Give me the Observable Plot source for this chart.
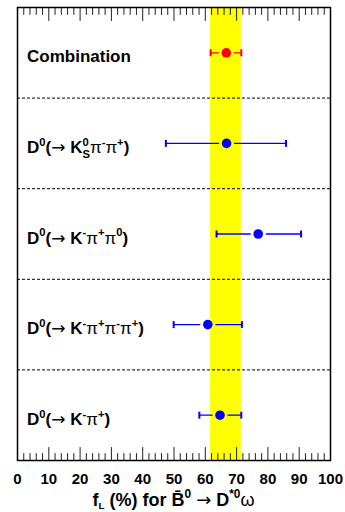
<!DOCTYPE html>
<html>
<head>
<meta charset="utf-8">
<script src="https://cdn.jsdelivr.net/npm/d3@7"></script>
<script src="https://cdn.jsdelivr.net/npm/@observablehq/plot@0.6"></script>
<style>
  body { margin: 0; background: #fff; }
  svg text { font-family: "Liberation Sans", Arial, Helvetica, sans-serif; }
  svg tspan.arrow { font-family: "DejaVu Sans", sans-serif; }
</style>
</head>
<body>
<div id="chart"></div>
<script>
// Longitudinal polarization fraction f_L (%) per D0 decay mode, top to bottom
const modes   = ["Combination", "Kspipi", "Kpipi0", "K3pi", "Kpi"];
const central = [66.7, 66.8, 76.9, 60.8, 64.7];
const lower   = [61.7, 47.4, 63.6, 49.9, 58.1];
const upper   = [71.5, 85.8, 90.6, 71.7, 71.5];
const colors  = ["#ff0000", "#0000ff", "#0000ff", "#0000ff", "#0000ff"];

// Row labels as [text, style] runs: sup / sub / stack (sub under previous sup) / sym (light) / arrow
const rowLabels = [
  [["Combination"]],
  [["D"], ["0", "sup"], ["("], ["\u2192", "arrow"], [" K"], ["0", "sup"], ["S", "stack"], ["\u03c0", "sym"], ["-", "sup"], ["\u03c0", "sym"], ["+", "sup"], [")"]],
  [["D"], ["0", "sup"], ["("], ["\u2192", "arrow"], [" K"], ["-", "sup"], ["\u03c0", "sym"], ["+", "sup"], ["\u03c0", "sym"], ["0", "sup"], [")"]],
  [["D"], ["0", "sup"], ["("], ["\u2192", "arrow"], [" K"], ["-", "sup"], ["\u03c0", "sym"], ["+", "sup"], ["\u03c0", "sym"], ["-", "sup"], ["\u03c0", "sym"], ["+", "sup"], [")"]],
  [["D"], ["0", "sup"], ["("], ["\u2192", "arrow"], [" K"], ["-", "sup"], ["\u03c0", "sym"], ["+", "sup"], [")"]]
];

// Axis title runs
const axisTitle = [["f"], ["L", "sub"], [" (%) for "], ["B\u0304"], ["0", "sup"], [" "], ["\u2192", "arrow"], [" D"], ["*0", "sup"], ["\u03c9", "sym"]];

const xTickLabels = [0, 10, 20, 30, 40, 50, 60, 70, 80, 90, 100];
const xMinorTicks = d3.range(0, 101, 2).filter(v => v % 10 !== 0);

const rows = modes.map((m, i) => ({
  mode: m, pos: i + 0.5, x: central[i], lo: lower[i], hi: upper[i], color: colors[i]
}));
const separators = d3.range(1, modes.length);
const band = [{x1: lower[0], x2: upper[0]}];

// short vertical stroke used for error-bar end caps
const capSymbol = {
  draw(ctx, size) {
    const h = Math.sqrt(size / Math.PI);
    ctx.moveTo(0, -h); ctx.lineTo(0, h);
  }
};
// straight tick line for the vector mark
const tickShape = {
  draw(ctx, l) { ctx.moveTo(0, 0); ctx.lineTo(0, -l); }
};

const W = 345, H = 512;
const plot = Plot.plot({
  width: W,
  height: H,
  marginTop: 7,
  marginBottom: 52,
  marginLeft: 17,
  marginRight: 15,
  x: {domain: [0, 100]},
  y: {domain: [0, modes.length], reverse: true, axis: null},
  marks: [
    Plot.rect(band, {x1: "x1", x2: "x2", fill: "#ffff00"}),
    Plot.ruleY(separators, {stroke: "#000", strokeWidth: 1, strokeDasharray: "3,2"}),
    // error bars, leaving a small gap around the marker
    Plot.arrow(rows, {x1: "x", x2: "lo", y1: "pos", y2: "pos", stroke: "color", strokeWidth: 1.3, headLength: 0, insetStart: 8}),
    Plot.arrow(rows, {x1: "x", x2: "hi", y1: "pos", y2: "pos", stroke: "color", strokeWidth: 1.3, headLength: 0, insetStart: 8}),
    Plot.dot(rows, {x: "lo", y: "pos", symbol: capSymbol, r: 3.5, stroke: "color", strokeWidth: 2}),
    Plot.dot(rows, {x: "hi", y: "pos", symbol: capSymbol, r: 3.5, stroke: "color", strokeWidth: 2}),
    Plot.dot(rows, {x: "x", y: "pos", r: 4.8, fill: "color", stroke: "none"}),
    // inward ticks on bottom and top edges
    Plot.vector(xTickLabels, {x: d => d, frameAnchor: "bottom", length: 13, rotate: 0, anchor: "start", shape: tickShape, stroke: "#222", strokeWidth: 1}),
    Plot.vector(xMinorTicks, {x: d => d, frameAnchor: "bottom", length: 7, rotate: 0, anchor: "start", shape: tickShape, stroke: "#222", strokeWidth: 1}),
    Plot.vector(xTickLabels, {x: d => d, frameAnchor: "top", length: 13, rotate: 180, anchor: "start", shape: tickShape, stroke: "#222", strokeWidth: 1}),
    Plot.vector(xMinorTicks, {x: d => d, frameAnchor: "top", length: 7, rotate: 180, anchor: "start", shape: tickShape, stroke: "#222", strokeWidth: 1}),
    Plot.axisX(xTickLabels, {anchor: "bottom", tickSize: 0, tickPadding: 13, fontSize: 15, fontWeight: "bold", fill: "#000", label: null}),
    Plot.frame({stroke: "#000", strokeWidth: 1.5})
  ]
});

function richText(sel, parts, base) {
  let shift = 0;
  parts.forEach(([t, kind]) => {
    let target = 0, size = base, weight = "bold", dx = 0;
    if (kind === "sup") { target = -0.42 * base; size = 0.66 * base; }
    if (kind === "sub") { target = 0.18 * base; size = 0.55 * base; }
    if (kind === "stack") { target = 0.3 * base; size = 0.66 * base; dx = -0.37 * base; }
    if (kind === "sym" || kind === "arrow") { weight = "normal"; }
    const ts = sel.append("tspan").text(t)
      .attr("dy", target - shift)
      .attr("font-size", size)
      .attr("font-weight", weight);
    if (kind === "arrow") ts.attr("class", "arrow");
    if (dx) ts.attr("dx", dx);
    shift = target;
  });
}

const svg = d3.select(plot);
const yScale = plot.scale("y");
const xScale = plot.scale("x");

rows.forEach((r, i) => {
  const t = svg.append("text")
    .attr("x", xScale.apply(0) + 10)
    .attr("y", yScale.apply(r.pos) + 10)
    .attr("text-anchor", "start")
    .attr("fill", "#000");
  richText(t, rowLabels[i], 17);
});

const title = svg.append("text")
  .attr("x", (xScale.apply(0) + xScale.apply(100)) / 2)
  .attr("y", H - 6)
  .attr("text-anchor", "middle")
  .attr("fill", "#000");
richText(title, axisTitle, 18);

document.getElementById("chart").appendChild(plot);
</script>
</body>
</html>
